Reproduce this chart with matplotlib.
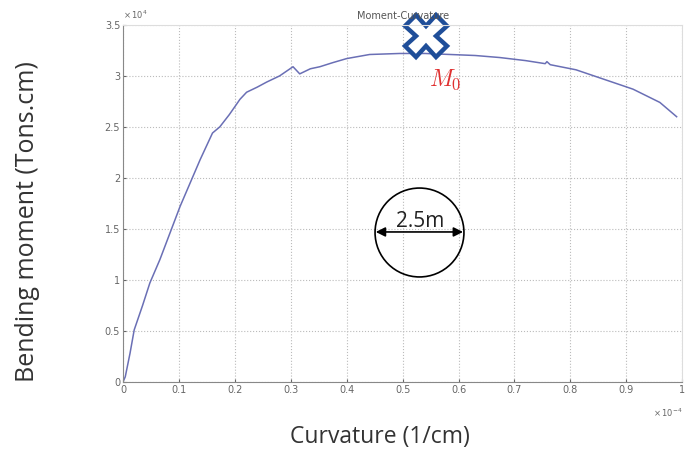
import numpy as np
import matplotlib.pyplot as plt

# curvature (x 1e-4 1/cm) and moment (x 1e4 Tons.cm)
curvature = [0.0, 0.004, 0.0125, 0.02, 0.035, 0.048, 0.066, 0.084, 0.102, 0.12,
             0.138, 0.16, 0.173, 0.19, 0.204, 0.209, 0.221, 0.24, 0.257, 0.28,
             0.304, 0.316, 0.335, 0.352, 0.375, 0.4, 0.441, 0.495, 0.54, 0.585,
             0.63, 0.674, 0.72, 0.755, 0.758, 0.764, 0.81, 0.853, 0.912, 0.96, 0.99]
moment = [0.0, 0.05, 0.28, 0.51, 0.75, 0.97, 1.2, 1.46, 1.72, 1.95,
          2.18, 2.44, 2.5, 2.62, 2.73, 2.77, 2.84, 2.89, 2.94, 3.0,
          3.09, 3.02, 3.07, 3.09, 3.13, 3.17, 3.21, 3.22, 3.22, 3.21,
          3.2, 3.18, 3.15, 3.12, 3.14, 3.11, 3.06, 2.98, 2.87, 2.74, 2.6]

xticks = [0, 0.1, 0.2, 0.3, 0.4, 0.5, 0.6, 0.7, 0.8, 0.9, 1]
xticklabels = ["0", "0.1", "0.2", "0.3", "0.4", "0.5", "0.6", "0.7", "0.8", "0.9", "1"]
yticks = [0, 0.5, 1, 1.5, 2, 2.5, 3, 3.5]
yticklabels = ["0", "0.5", "1", "1.5", "2", "2.5", "3", "3.5"]

fig = plt.figure(figsize=(6.99, 4.53), dpi=100)
ax = fig.add_axes([0.176, 0.157, 0.8, 0.788])

ax.plot(curvature, moment, color="#6a6fb5", lw=1.1)

ax.set_xlim(0, 1)
ax.set_ylim(0, 3.5)
ax.set_xticks(xticks)
ax.set_xticklabels(xticklabels)
ax.set_yticks(yticks)
ax.set_yticklabels(yticklabels)
ax.tick_params(labelsize=7, colors="#666666", length=2, direction="in", pad=2)
ax.grid(True, ls=":", color="#bbbbbb", lw=0.8)
for s in ax.spines.values():
    s.set_color("#dddddd")
ax.spines["left"].set_color("#888888")
ax.spines["bottom"].set_color("#888888")

ax.set_title("Moment-Curvature", fontsize=7, color="#555555", pad=4)
ax.text(0.0, 1.01, r"$\times\,10^4$", transform=ax.transAxes, fontsize=6,
        color="#666666", ha="left", va="bottom")
ax.text(1.0, -0.07, r"$\times\,10^{-4}$", transform=ax.transAxes, fontsize=6,
        color="#666666", ha="right", va="top")

# axis labels placed like in the source image
fig.text(380 / 699, 1 - 437 / 453, "Curvature (1/cm)", fontsize=16.5,
         color="#333333", family="Open Sans", ha="center", va="center")
fig.text(28 / 699, 1 - 222 / 453, "Bending moment (Tons.cm)", fontsize=18,
         color="#333333", family="Open Sans", ha="center", va="center",
         rotation=90)

# peak marker and label
ax.plot([0.541], [3.39], marker="X", ms=30, mfc="white", mec="#1f4e99",
        mew=3.2, clip_on=False)
ax.text(0.547, 2.9, r"$M_0$", color="#e03030", fontsize=17,
        math_fontfamily="cm")

# section sketch: circle drawn as a marker so it stays round
ax.plot([0.529], [1.47], marker="o", ms=64, mfc="none", mec="black", mew=1.2)
ax.annotate("", xy=(0.452, 1.47), xytext=(0.608, 1.47),
            arrowprops=dict(arrowstyle="<|-|>", color="black", lw=1.2,
                            mutation_scale=14, shrinkA=0, shrinkB=0))
ax.text(0.532, 1.47, "2.5m", ha="center", va="bottom", fontsize=15,
        family="Open Sans", color="#222222")

fig.savefig("out.png", dpi=100)
